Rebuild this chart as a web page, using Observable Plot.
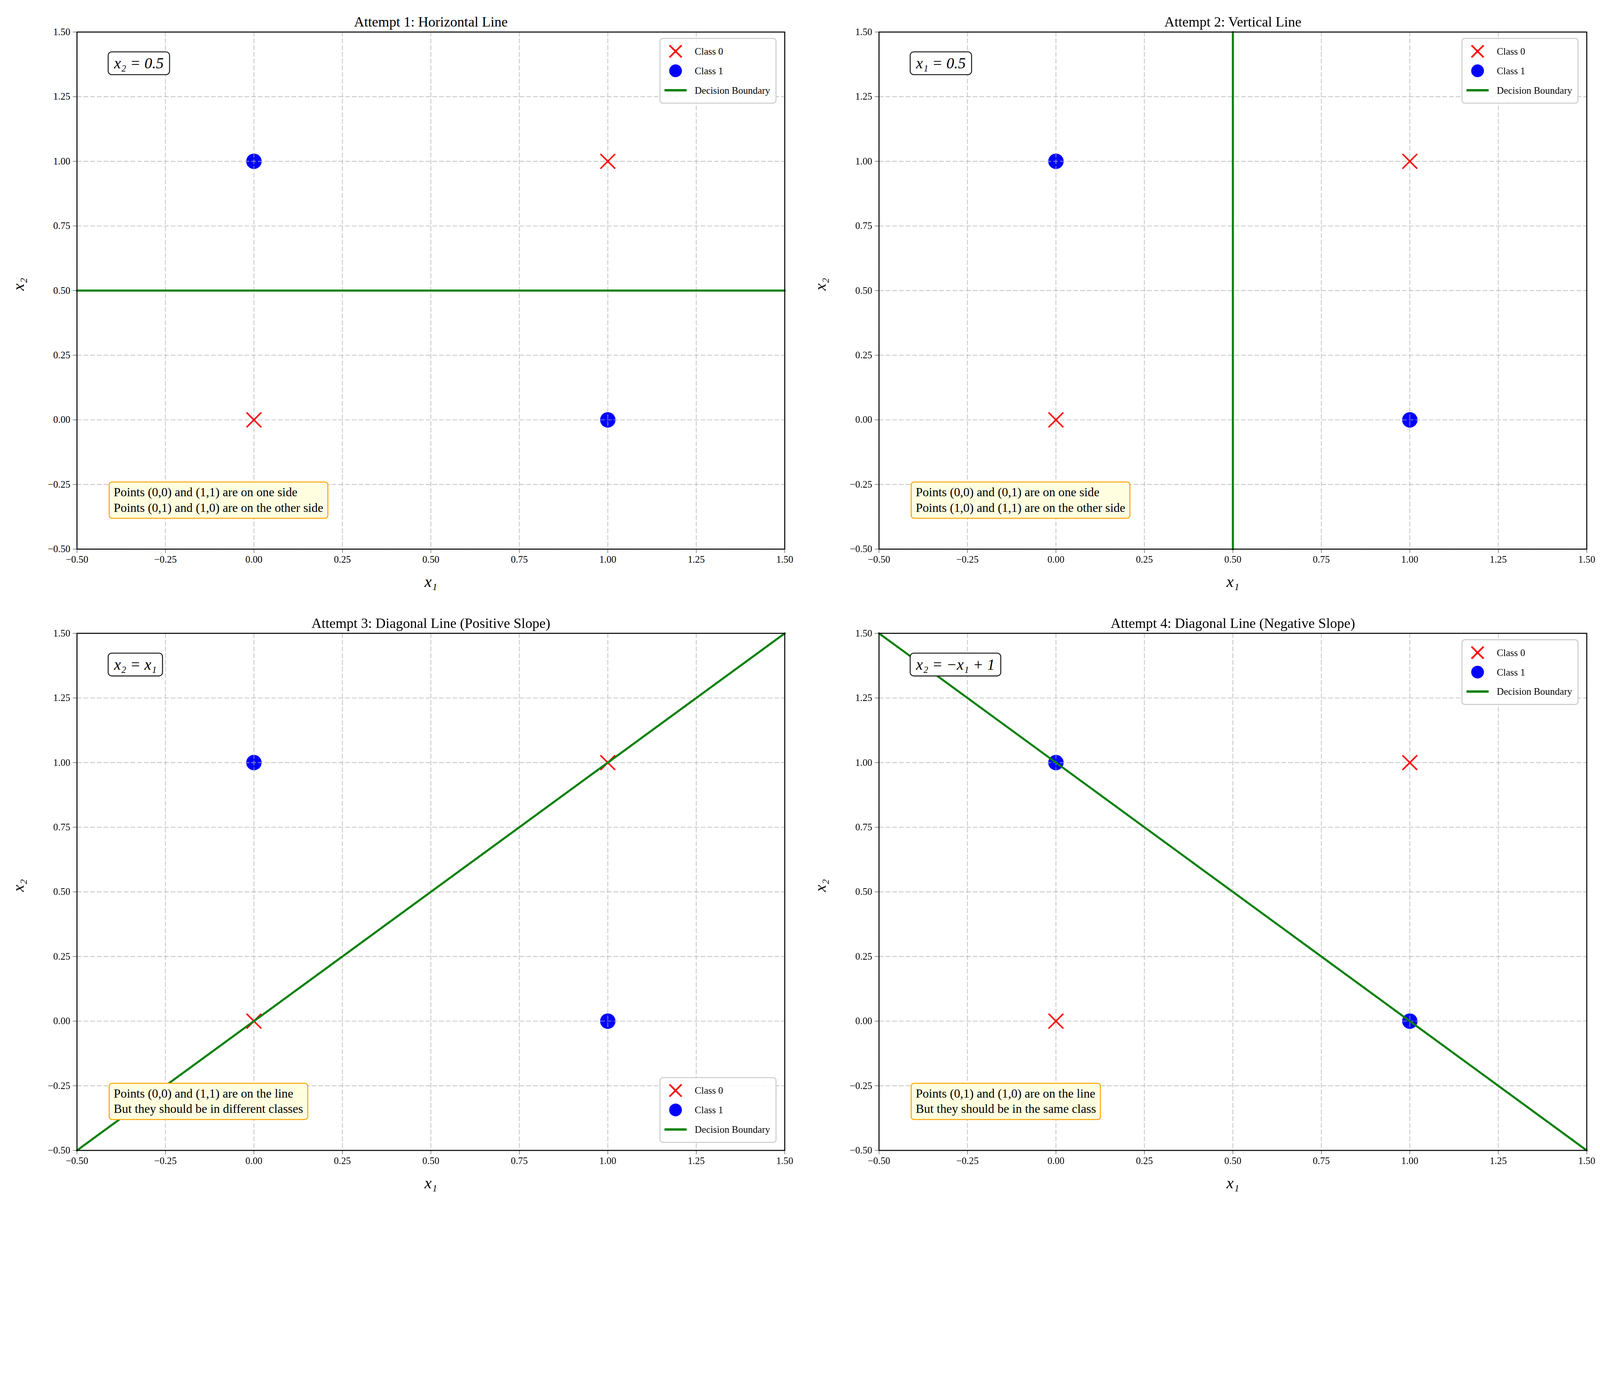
<!DOCTYPE html>
<html>
<head>
<meta charset="utf-8">
<script src="https://cdn.jsdelivr.net/npm/d3@7"></script>
<script src="https://cdn.jsdelivr.net/npm/@observablehq/plot@0.6"></script>
<style>
  html, body { margin: 0; background: #fff; overflow: hidden; }
  #page { width: 4770px; height: 3570px; position: relative; transform-origin: 0 0; font-family: "Liberation Serif", "DejaVu Serif", serif; }
  .panel { position: absolute; max-width: none; }
  .eq { position: absolute; background: #fff; border: 3px solid #222; border-radius: 12px; padding: 6px 16px; font-size: 46px; font-style: italic; white-space: nowrap; }
  .note { position: absolute; background: #ffffe0; border: 3px solid orange; border-radius: 10px; padding: 6px 12px; font-size: 37px; line-height: 1.25; white-space: nowrap; }
  .legend { position: absolute; background: rgba(255,255,255,0.85); border: 3px solid #ccc; border-radius: 10px; padding: 8px 16px 8px 10px; font-size: 29px; }
  .legend div { display: flex; align-items: center; height: 58px; }
  .legend svg { margin-right: 22px; }
</style>
</head>
<body>
<div id="page"></div>
<script>
// XOR points
const class0 = [{x1: 0, x2: 0}, {x1: 1, x2: 1}];
const class1 = [{x1: 0, x2: 1}, {x1: 1, x2: 0}];
const ticks = [-0.5, -0.25, 0, 0.25, 0.5, 0.75, 1, 1.25, 1.5];

// one boundary per attempt
const titles = [
  "Attempt 1: Horizontal Line",
  "Attempt 2: Vertical Line",
  "Attempt 3: Diagonal Line (Positive Slope)",
  "Attempt 4: Diagonal Line (Negative Slope)"
];
const boundaries = [
  [{x1: -0.5, x2: 0.5}, {x1: 1.5, x2: 0.5}],
  [{x1: 0.5, x2: -0.5}, {x1: 0.5, x2: 1.5}],
  [{x1: -0.5, x2: -0.5}, {x1: 1.5, x2: 1.5}],
  [{x1: -0.5, x2: 1.5}, {x1: 1.5, x2: -0.5}]
];
const equations = ["x₂ = 0.5", "x₁ = 0.5", "x₂ = x₁", "x₂ = −x₁ + 1"];
const notes = [
  ["Points (0,0) and (1,1) are on one side", "Points (0,1) and (1,0) are on the other side"],
  ["Points (0,0) and (0,1) are on one side", "Points (1,0) and (1,1) are on the other side"],
  ["Points (0,0) and (1,1) are on the line", "But they should be in different classes"],
  ["Points (0,1) and (1,0) are on the line", "But they should be in the same class"]
];
const legendBottom = [false, false, true, false];

const page = document.getElementById("page");
const W = 2385, H = 1785;
const mL = 229, mT = 95, pw = 2110, ph = 1541;
const fmt = d => d.toFixed(2).replace("-", "−");
const timesSym = d3.symbolTimes || d3.symbolX;

titles.forEach((title, i) => {
  const col = i % 2, row = Math.floor(i / 2);
  const left = col * 2391, top = row * 1792;

  const chart = Plot.plot({
    width: W, height: H,
    marginLeft: mL, marginTop: mT, marginRight: W - mL - pw, marginBottom: H - mT - ph,
    style: {fontFamily: "Liberation Serif, DejaVu Serif, serif", background: "white", maxWidth: "none"},
    x: {domain: [-0.5, 1.5]},
    y: {domain: [-0.5, 1.5]},
    marks: [
      Plot.dot(class1, {x: "x1", y: "x2", r: 23, fill: "blue"}),
      Plot.gridX(ticks, {stroke: "#b0b0b0", strokeOpacity: 0.7, strokeWidth: 2.5, strokeDasharray: "14,6"}),
      Plot.gridY(ticks, {stroke: "#b0b0b0", strokeOpacity: 0.7, strokeWidth: 2.5, strokeDasharray: "14,6"}),
      Plot.dot(class0, {x: "x1", y: "x2", r: 20, symbol: timesSym, stroke: "red", strokeWidth: 4.5}),
      Plot.line(boundaries[i], {x: "x1", y: "x2", stroke: "#008000", strokeWidth: 6}),
      Plot.frame({stroke: "black", strokeWidth: 3}),
      Plot.axisX(ticks, {tickFormat: fmt, fontSize: 29, tickSize: 12, tickPadding: 8, label: null}),
      Plot.axisY(ticks, {tickFormat: fmt, fontSize: 29, tickSize: 12, tickPadding: 8, label: null}),
      Plot.text([title], {frameAnchor: "top", dy: -46, fontSize: 42, fill: "black"}),
      Plot.text(["x₁"], {frameAnchor: "bottom", dy: 113, fontSize: 48, fontStyle: "italic", fill: "black"}),
      Plot.text(["x₂"], {frameAnchor: "left", dx: -174, rotate: -90, fontSize: 48, fontStyle: "italic", fill: "black"})
    ]
  });
  chart.classList.add("panel");
  chart.style.left = left + "px";
  chart.style.top = top + "px";
  page.appendChild(chart);

  const eq = document.createElement("div");
  eq.className = "eq";
  eq.textContent = equations[i];
  eq.style.left = (left + mL + 92) + "px";
  eq.style.top = (top + mT + 58) + "px";
  page.appendChild(eq);

  const note = document.createElement("div");
  note.className = "note";
  note.innerHTML = notes[i].join("<br>");
  note.style.left = (left + mL + 95) + "px";
  note.style.top = (top + mT + 1340) + "px";
  page.appendChild(note);

  const lg = document.createElement("div");
  lg.className = "legend";
  lg.innerHTML =
    '<div><svg width="70" height="50"><path d="M17,7 L53,43 M53,7 L17,43" stroke="red" stroke-width="5"/></svg>Class 0</div>' +
    '<div><svg width="70" height="50"><circle cx="35" cy="25" r="19" fill="blue"/></svg>Class 1</div>' +
    '<div><svg width="70" height="50"><line x1="2" y1="25" x2="68" y2="25" stroke="#008000" stroke-width="7"/></svg>Decision Boundary</div>';
  lg.style.right = (4770 - (left + mL + pw) + 24) + "px";
  if (legendBottom[i]) lg.style.bottom = (3570 - (top + mT + ph) + 22) + "px";
  else lg.style.top = (top + mT + 18) + "px";
  page.appendChild(lg);
});

// fit the 4770x3570 layout into whatever viewport is photographed
const vw = document.documentElement.clientWidth || window.innerWidth;
const vh = document.documentElement.clientHeight || window.innerHeight;
const k = Math.min(1, vw / 4770, vh / 3570);
page.style.transform = `scale(${k})`;
</script>
</body>
</html>
